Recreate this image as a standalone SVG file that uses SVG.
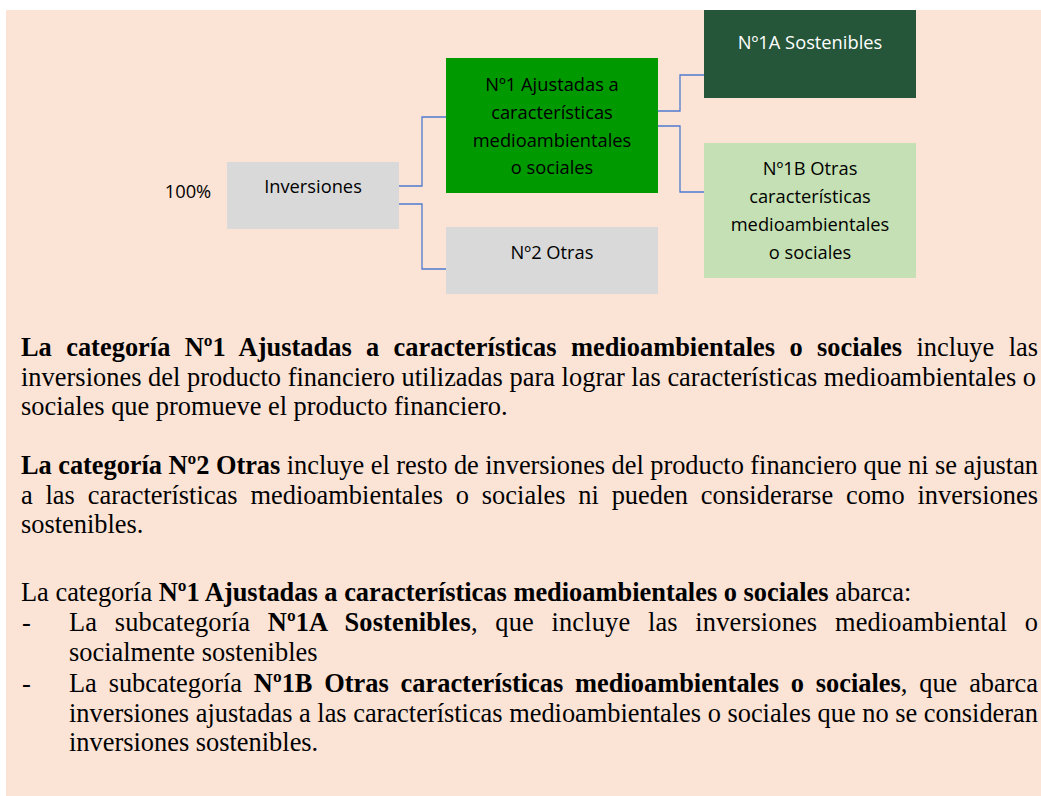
<svg xmlns="http://www.w3.org/2000/svg" width="1041" height="796" viewBox="0 0 1041 796">
<style>
.box{font-family:"Open Sans","Noto Sans",sans-serif;font-size:18.3px;text-anchor:middle;fill:#000}
.wh{fill:#fff}
.conn{fill:none;stroke:#4F7BD0;stroke-width:1.3}
.p{font-family:"Liberation Serif","Times New Roman",serif;font-size:26.4px;fill:#000}
.b{font-weight:bold}
</style>
<rect x="0" y="0" width="1041" height="796" fill="#ffffff"/>
<rect x="6" y="10" width="1035" height="786" fill="#FBE3D6"/>
<g id="connectors">
<polyline class="conn" points="399,186 422,186 422,117 446,117"/>
<polyline class="conn" points="399,204 422,204 422,269 446,269"/>
<polyline class="conn" points="658,111 680,111 680,75 704,75"/>
<polyline class="conn" points="658,126 680,126 680,192 704,192"/>
</g>
<g id="label-100">
<text class="box" x="188" y="198">100%</text>
</g>
<g id="node-inversiones">
<rect x="227" y="162" width="172" height="67" fill="#D9D9D9"/>
<text class="box" x="313" y="193">Inversiones</text>
</g>
<g id="node-n1">
<rect x="446" y="58" width="212" height="135" fill="#009900"/>
<text class="box" x="552" y="91">Nº1 Ajustadas a</text>
<text class="box" x="552" y="119">características</text>
<text class="box" x="552" y="147">medioambientales</text>
<text class="box" x="552" y="174">o sociales</text>
</g>
<g id="node-n2">
<rect x="446" y="227" width="212" height="67" fill="#D9D9D9"/>
<text class="box" x="552" y="259">Nº2 Otras</text>
</g>
<g id="node-n1a">
<rect x="704" y="10" width="212" height="88" fill="#255639"/>
<text class="box wh" x="810" y="49">Nº1A Sostenibles</text>
</g>
<g id="node-n1b">
<rect x="704" y="143" width="212" height="135" fill="#C5E0B4"/>
<text class="box" x="810" y="175">Nº1B Otras</text>
<text class="box" x="810" y="203">características</text>
<text class="box" x="810" y="231">medioambientales</text>
<text class="box" x="810" y="259">o sociales</text>
</g>
<g id="text">
<text class="p" x="21" y="356" style="word-spacing:7.7px" textLength="1017" lengthAdjust="spacing"><tspan class="b">La categoría Nº1 Ajustadas a características medioambientales o sociales</tspan> incluye las</text>
<text class="p" x="21" y="385.5" textLength="1015" lengthAdjust="spacing">inversiones del producto financiero utilizadas para lograr las características medioambientales o</text>
<text class="p" x="21" y="415">sociales que promueve el producto financiero.</text>
<text class="p" x="21" y="474" textLength="1017" lengthAdjust="spacing"><tspan class="b">La categoría Nº2 Otras</tspan> incluye el resto de inversiones del producto financiero que ni se ajustan</text>
<text class="p" x="21" y="503.5" style="word-spacing:6.1px" textLength="1017" lengthAdjust="spacing">a las características medioambientales o sociales ni pueden considerarse como inversiones</text>
<text class="p" x="21" y="533">sostenibles.</text>
<text class="p" x="21" y="600.5">La categoría <tspan class="b">Nº1 Ajustadas a características medioambientales o sociales</tspan> abarca:</text>
<text class="p" x="22" y="631">-</text>
<text class="p" x="69" y="631" style="word-spacing:10.9px" textLength="969" lengthAdjust="spacing">La subcategoría <tspan class="b">Nº1A Sostenibles</tspan>, que incluye las inversiones medioambiental o</text>
<text class="p" x="69" y="660.5">socialmente sostenibles</text>
<text class="p" x="22" y="692">-</text>
<text class="p" x="69" y="692" style="word-spacing:5.2px" textLength="969" lengthAdjust="spacing">La subcategoría <tspan class="b">Nº1B Otras características medioambientales o sociales</tspan>, que abarca</text>
<text class="p" x="69" y="721.5" textLength="969" lengthAdjust="spacing">inversiones ajustadas a las características medioambientales o sociales que no se consideran</text>
<text class="p" x="69" y="751">inversiones sostenibles.</text>
</g>
</svg>
